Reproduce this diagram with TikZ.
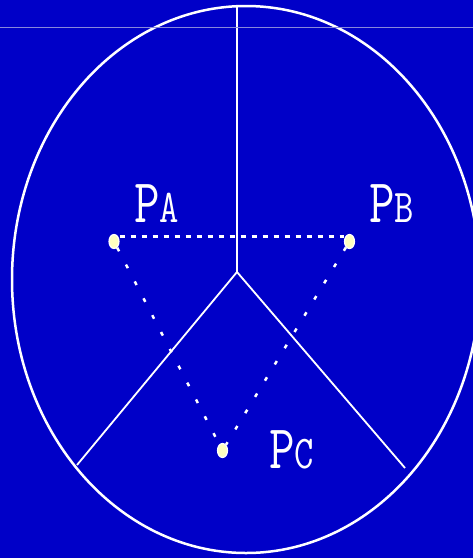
\documentclass[tikz,border=0pt]{standalone}
\usepackage{fontspec}
\usetikzlibrary{shapes.geometric}
\definecolor{screenblue}{RGB}{0,0,200}
\definecolor{dotyellow}{RGB}{255,255,192}
\definecolor{rulegray}{RGB}{136,136,220}
\newcommand\pname[1]{\scalebox{0.8}[1]{P\fontsize{47}{47}\selectfont #1}}

\begin{document}
\begin{tikzpicture}[
  x=1pt, y=-1pt,
  rim/.style={draw=white, line width=2.5pt},
  spoke/.style={draw=white, line width=1.8pt},
  pdot/.style={ellipse, fill=dotyellow, draw=white, line width=1.2pt, inner sep=0pt, minimum width=10pt, minimum height=14pt},
  chord/.style={draw=white, line width=3.5pt, dash pattern=on 5pt off 6pt},
  sparse/.style={draw=white, line width=2.5pt, dash pattern=on 4pt off 15pt},
  lbl/.style={text=white, font=\ttfamily\fontsize{62}{62}\selectfont, inner sep=0pt, anchor=base west}
]
\useasboundingbox (0,0) rectangle (473,558);
\fill[screenblue] (0,0) rectangle (473,558);

\draw[rim] (246,279.5) ellipse [x radius=234, y radius=273.5];

\coordinate (top) at (237,6);
\coordinate (hub) at (237,272);
\coordinate (leftend) at (77,465);
\coordinate (rightend) at (405,468);

\draw[spoke] (top) -- (hub);
\draw[spoke] (hub) -- (leftend);
\draw[spoke] (hub) -- (rightend);

\node[pdot] (PA) at (114,241.5) {};
\node[pdot] (PB) at (349.5,241.5) {};
\node[pdot] (PC) at (222.5,450.5) {};

\draw[chord] ([yshift=5pt]PA.east) -- ([yshift=5pt]PB.west);
\draw[sparse] (PA) -- (PC);
\draw[sparse] (PB) -- (PC);

\node[lbl] (labelA) at (134,222) {\pname{A}};
\node[lbl] (labelB) at (369,222) {\pname{B}};
\node[lbl] (labelC) at (269,468) {\pname{C}};

\draw[rulegray, line width=1pt] (0,27) -- (473,27);
\end{tikzpicture}
\end{document}
